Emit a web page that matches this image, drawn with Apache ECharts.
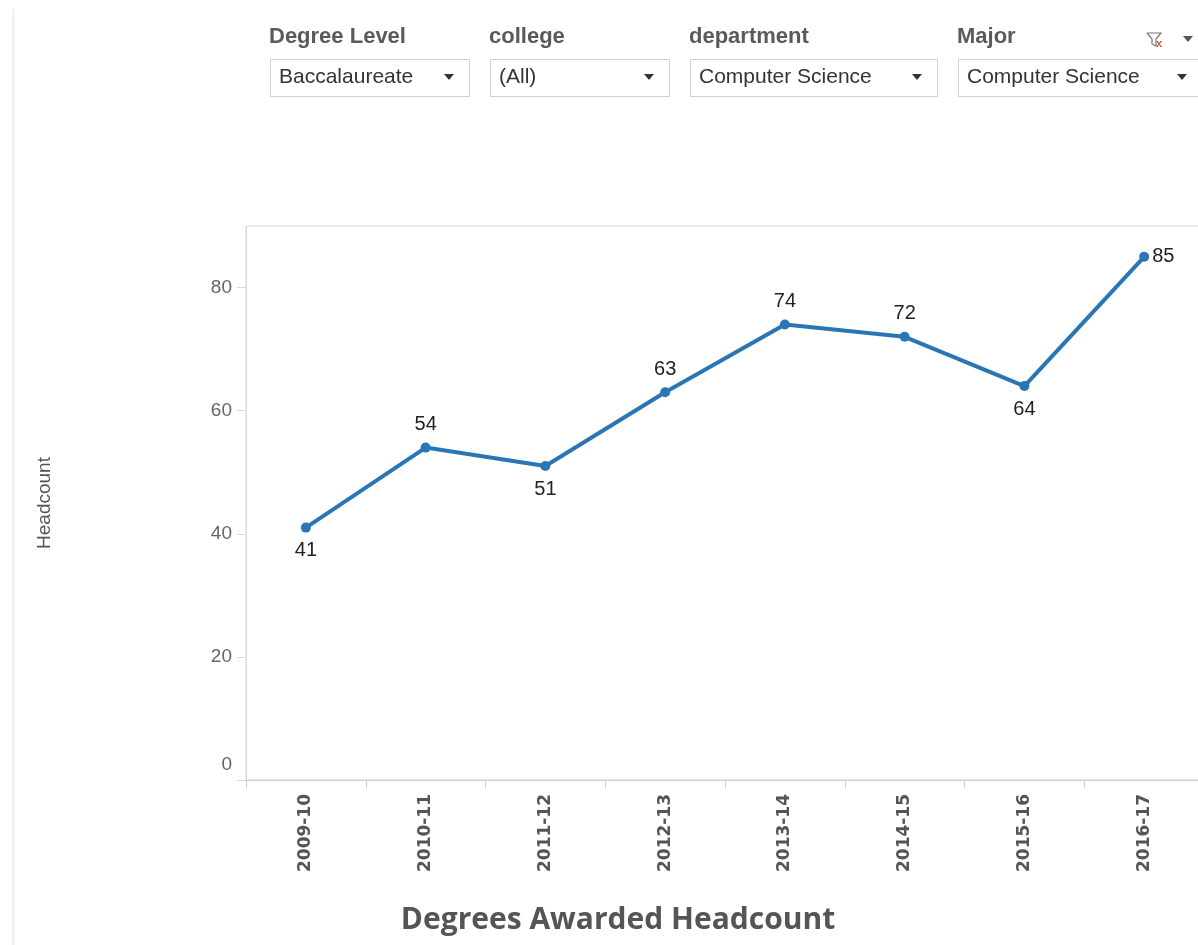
<!DOCTYPE html>
<html>
<head>
<meta charset="utf-8">
<title>Degrees Awarded Headcount</title>
<script src="https://cdn.jsdelivr.net/npm/echarts@6/dist/echarts.min.js"></script>
<style>
  html, body { margin: 0; padding: 0; background: #fff; }
  #chart { width: 1198px; height: 945px; }
</style>
</head>
<body>
<div id="chart"></div>
<script>
var years = ['2009-10', '2010-11', '2011-12', '2012-13', '2013-14', '2014-15', '2015-16', '2016-17'];
var headcount = [41, 54, 51, 63, 74, 72, 64, 85];
var yTicks = [0, 20, 40, 60, 80];

var filterNames = ['Degree Level', 'college', 'department', 'Major'];
var filterValues = ['Baccalaureate', '(All)', 'Computer Science', 'Computer Science'];

/* where each value label sits relative to its point */
var labelSide = ['bottom', 'top', 'bottom', 'top', 'top', 'top', 'bottom', 'right'];

/* filter boxes at the top (layout only) */
var boxX = [270, 490, 690, 958];
var boxW = [199, 179, 247, 250];

function filterGraphics() {
  var g = [];
  for (var i = 0; i < filterNames.length; i++) {
    g.push({
      type: 'text', left: boxX[i] - 1, top: 26,
      style: { text: filterNames[i], font: 'bold 22px "Liberation Sans", Arial, sans-serif', fill: '#5a5a5a' }
    });
    g.push({
      type: 'rect', shape: { x: boxX[i] + 0.5, y: 59.5, width: boxW[i], height: 37 },
      style: { fill: '#fff', stroke: '#d0d0d0', lineWidth: 1 }
    });
    g.push({
      type: 'text', left: boxX[i] + 9, top: 67,
      style: { text: filterValues[i], font: '21px "Liberation Sans", Arial, sans-serif', fill: '#333' }
    });
    var tx = Math.min(boxX[i] + boxW[i] - 20, 1182);
    g.push({
      type: 'polygon', shape: { points: [[tx - 5, 74], [tx + 5, 74], [tx, 80]] },
      style: { fill: '#333' }
    });
  }
  // clear-filter icon and menu arrow
  g.push({
    type: 'polyline', shape: { points: [[1147, 33], [1161, 33], [1156, 39], [1156, 46], [1152, 44], [1152, 39], [1147, 33]] },
    style: { fill: null, stroke: '#777', lineWidth: 1.2 }
  });
  g.push({
    type: 'text', left: 1156, top: 38,
    style: { text: 'x', font: 'bold 11px "Liberation Sans", Arial, sans-serif', fill: '#d9534f' }
  });
  g.push({
    type: 'polygon', shape: { points: [[1183, 36], [1193, 36], [1188, 42]] },
    style: { fill: '#555' }
  });
  // light panel border on the left
  g.push({
    type: 'rect', shape: { x: 12, y: 9, width: 3, height: 940 },
    style: { fill: '#f2f2f2' }
  });
  return g;
}

var chart = echarts.init(document.getElementById('chart'));

var seriesData = headcount.map(function (v, i) {
  return {
    value: v,
    label: { position: labelSide[i], distance: labelSide[i] === 'right' ? 3 : 8 }
  };
});

var option = {
  backgroundColor: '#fff',
  animation: false,
  title: {
    text: 'Degrees Awarded Headcount',
    left: 613, top: 900, textAlign: 'center',
    textStyle: { fontFamily: '"Open Sans", sans-serif', fontWeight: 'bold', fontSize: 30, color: '#555' }
  },
  grid: {
    left: 246, top: 226, width: 958, height: 554,
    outerBoundsMode: 'none', containLabel: false,
    show: true, borderColor: '#d9d9d9', borderWidth: 1, backgroundColor: 'transparent'
  },
  xAxis: {
    type: 'category',
    data: years,
    boundaryGap: true,
    axisLine: { lineStyle: { color: '#cfcfcf' } },
    axisTick: { show: true, length: 8, lineStyle: { color: '#cfcfcf' } },
    axisLabel: {
      rotate: 90, margin: 14, color: '#555',
      fontFamily: '"DejaVu Sans", sans-serif', fontWeight: 'bold', fontSize: 17
    },
    splitLine: { show: false }
  },
  yAxis: {
    type: 'value',
    min: yTicks[0], max: 90, interval: yTicks[1] - yTicks[0],
    name: 'Headcount', nameLocation: 'middle', nameRotate: 90, nameGap: 192,
    nameTextStyle: { fontFamily: '"Liberation Sans", Arial, sans-serif', fontSize: 19, color: '#555' },
    axisLine: { show: true, lineStyle: { color: '#d9d9d9' } },
    axisTick: { show: true, length: 9, lineStyle: { color: '#d9d9d9' } },
    splitLine: { show: false },
    axisLabel: {
      showMaxLabel: false, margin: 14, color: '#666',
      fontFamily: '"Liberation Sans", Arial, sans-serif', fontSize: 19,
      formatter: function (v) { return v === 0 ? '{z|0}' : String(v); },
      rich: { z: { fontFamily: '"Liberation Sans", Arial, sans-serif', fontSize: 19, color: '#666', padding: [0, 0, 30, 0] } }
    }
  },
  series: [{
    type: 'line',
    data: seriesData,
    symbol: 'circle',
    symbolSize: 10,
    lineStyle: { color: '#2a76b4', width: 4 },
    itemStyle: { color: '#2a76b4' },
    label: {
      show: true, color: '#222',
      fontFamily: '"Liberation Sans", Arial, sans-serif', fontSize: 20
    }
  }],
  graphic: filterGraphics()
};

chart.setOption(option);
</script>
</body>
</html>
